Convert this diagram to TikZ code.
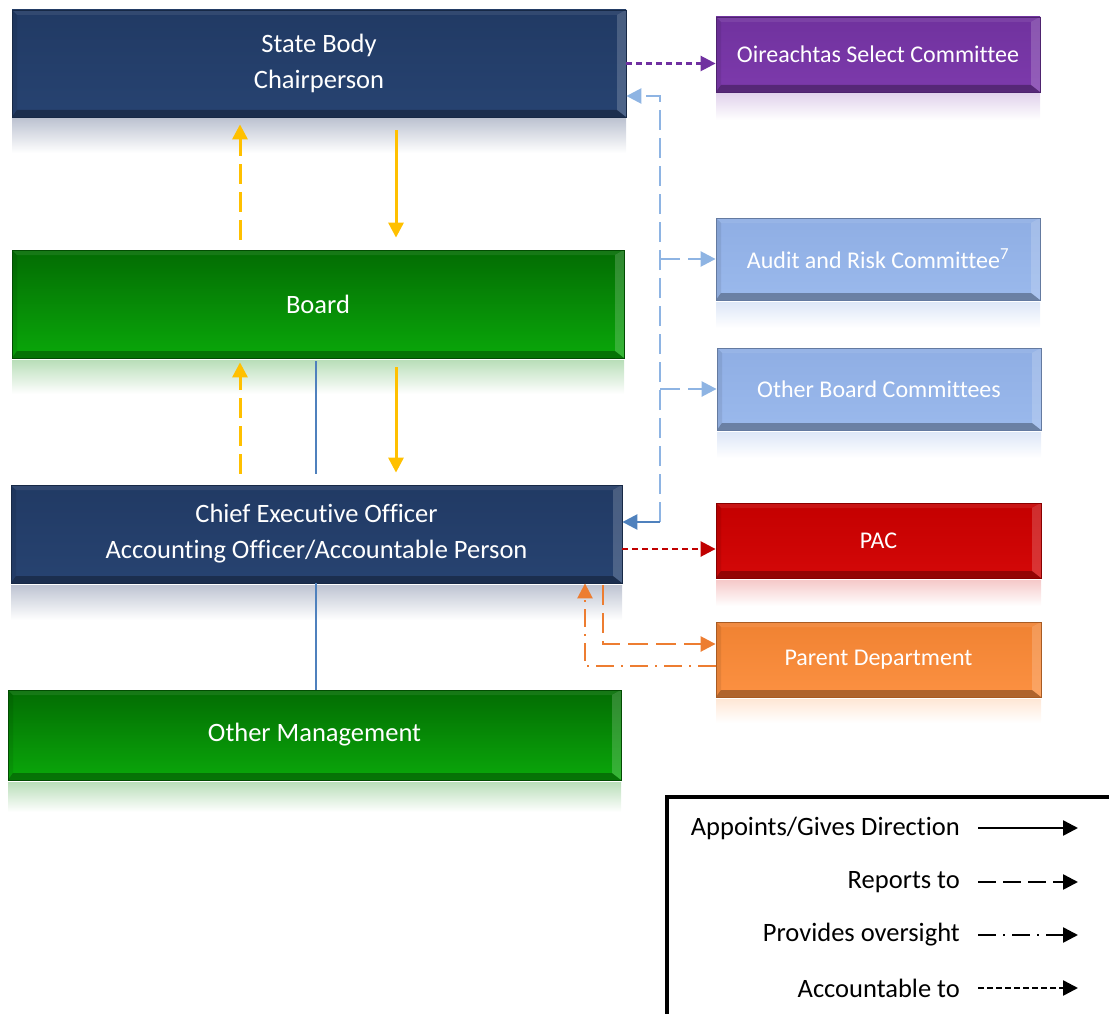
\documentclass[tikz,border=0pt]{standalone}
\usepackage{fontspec}
\setmainfont{Carlito}[RawFeature={-liga;-clig;-calt;-dlig}]
\usetikzlibrary{arrows.meta,calc}
\definecolor{navyA}{RGB}{33,58,100}
\definecolor{navyB}{RGB}{39,67,113}
\definecolor{greenA}{RGB}{3,108,3}
\definecolor{greenB}{RGB}{10,168,10}
\definecolor{purpA}{RGB}{112,50,158}
\definecolor{purpB}{RGB}{125,58,172}
\definecolor{lbA}{RGB}{143,174,228}
\definecolor{lbB}{RGB}{154,185,236}
\definecolor{redA}{RGB}{196,0,0}
\definecolor{redB}{RGB}{212,8,8}
\definecolor{orA}{RGB}{240,130,50}
\definecolor{orB}{RGB}{252,145,66}
\definecolor{yel}{RGB}{255,192,0}
\definecolor{bl}{RGB}{79,129,189}
\definecolor{lbl}{RGB}{142,180,227}
\definecolor{purl}{RGB}{112,48,160}
\definecolor{redl}{RGB}{192,0,0}
\definecolor{orl}{RGB}{237,125,49}
\definecolor{refgray}{RGB}{190,196,210}
\definecolor{refgreen}{RGB}{185,222,185}
\tikzset{
  bevel/.style={path picture={
    \fill[white,opacity=0.18] (path picture bounding box.north east) -- (path picture bounding box.south east)
       -- ([xshift=-9pt,yshift=7pt]path picture bounding box.south east) -- ([xshift=-9pt,yshift=-5pt]path picture bounding box.north east) -- cycle;
    \fill[black,opacity=0.3] (path picture bounding box.south west) -- (path picture bounding box.south east)
       -- ([xshift=-9pt,yshift=7pt]path picture bounding box.south east) -- ([xshift=5pt,yshift=7pt]path picture bounding box.south west) -- cycle;
    \fill[white,opacity=0.08] (path picture bounding box.north west) -- (path picture bounding box.north east)
       -- ([xshift=-9pt,yshift=-5pt]path picture bounding box.north east) -- ([xshift=5pt,yshift=-5pt]path picture bounding box.north west) -- cycle;
    \fill[black,opacity=0.08] (path picture bounding box.north west) -- (path picture bounding box.south west)
       -- ([xshift=5pt,yshift=7pt]path picture bounding box.south west) -- ([xshift=5pt,yshift=-5pt]path picture bounding box.north west) -- cycle;
  }},
  box/.style={inner sep=0pt, text=white, align=center, draw=#1, line width=0.8pt, bevel},
  bignav/.style={box=navyA!70!black, top color=navyA, bottom color=navyB,
     font=\fontsize{26.5}{36}\selectfont},
  biggreen/.style={box=greenA!70!black, top color=greenA, bottom color=greenB,
     font=\fontsize{26.5}{36}\selectfont},
  small/.style={minimum width=325pt, minimum height=75pt, font=\fontsize{24}{29}\selectfont},
  tip/.style={-{Triangle[length=15pt,width=15pt]}},
  repline/.style={dash pattern=on 20pt off 8pt},
  accline/.style={dash pattern=on 6pt off 4pt},
  ovsline/.style={dash pattern=on 18pt off 7pt on 2pt off 7pt},
  legtext/.style={anchor=east, inner sep=0pt, font=\fontsize{26.5}{30}\selectfont},
}
\begin{document}
\begin{tikzpicture}[x=1pt,y=-1pt]
\useasboundingbox (0,0) rectangle (1109,1014);
% reflections
\shade[top color=refgray, bottom color=white] (12,119) rectangle (626,153);
\shade[top color=refgreen, bottom color=white] (12,360) rectangle (624,394);
\shade[top color=refgray, bottom color=white] (11,585) rectangle (622,620);
\shade[top color=refgreen, bottom color=white] (8,782) rectangle (621,812);
\shade[top color=purpB!22, bottom color=white] (716,94) rectangle (1040,120);
\shade[top color=lbA!30, bottom color=white] (716,302) rectangle (1040,328);
\shade[top color=lbA!30, bottom color=white] (717,432) rectangle (1041,458);
\shade[top color=redB!22, bottom color=white] (716,580) rectangle (1041,606);
\shade[top color=orB!22, bottom color=white] (716,699) rectangle (1041,723);
% main boxes
\node[bignav, minimum width=614pt, minimum height=107pt] (sb) at (319,63.5) {State Body\\Chairperson};
\node[biggreen, minimum width=612pt, minimum height=108pt] (board) at (318,304) {Board};
\node[bignav, minimum width=611pt, minimum height=98pt] (ceo) at (316.5,534) {Chief Executive Officer\\Accounting Officer/Accountable Person};
\node[biggreen, minimum width=613pt, minimum height=90pt] (om) at (314.5,735) {Other Management};
% right boxes
\node[box=purpA!70!black, top color=purpA, bottom color=purpB, small, minimum width=324pt] (oir) at (878,54.5) {Oireachtas Select Committee};
\node[box=lbA!70!black, top color=lbA, bottom color=lbB, small, minimum width=324pt, minimum height=82pt] (aud) at (878,259) {Audit and Risk Committee\textsuperscript{7}};
\node[box=lbA!70!black, top color=lbA, bottom color=lbB, small, minimum width=324pt, minimum height=82pt] (obc) at (879,389) {Other Board Committees};
\node[box=redA!70!black, top color=redA, bottom color=redB, small] (pac) at (878.5,540.5) {PAC};
\node[box=orA!70!black, top color=orA, bottom color=orB, small] (par) at (878.5,659.5) {Parent Department};
% helper coordinates
\coordinate (xl) at (240,0);
\coordinate (xr) at (396,0);
\coordinate (xm) at (316,0);
\coordinate (vtop) at (660,96);
\coordinate (vbot) at (660,522);
\coordinate (yr) at (0,549);
\coordinate (ob) at (603,644);
\coordinate (oc) at (585,666);
% yellow and blue vertical connectors
\draw[yel, line width=3pt, repline, tip, shorten <=10pt, shorten >=7pt] (board.north -| xl) -- (sb.south -| xl);
\draw[yel, line width=3pt, tip, shorten <=13pt, shorten >=12pt] (sb.south -| xr) -- (board.north -| xr);
\draw[yel, line width=3pt, repline, tip, shorten <=11pt, shorten >=4pt] (ceo.north -| xl) -- (board.south -| xl);
\draw[yel, line width=3pt, tip, shorten <=9pt, shorten >=12pt] (board.south -| xr) -- (ceo.north -| xr);
\draw[bl, line width=2.5pt, shorten <=3pt, shorten >=11pt] (board.south -| xm) -- (ceo.north -| xm);
\draw[bl, line width=2.5pt] (ceo.south -| xm) -- (om.north -| xm);
% purple accountable
\draw[purl, line width=2.5pt, accline, tip] (sb.east) -- (sb.east -| oir.west);
% light blue reports
\draw[lbl, line width=2.5pt, repline, tip] (vbot) -- (vtop) -- (vtop -| sb.east);
\draw[lbl, line width=2.5pt, repline, tip] (vtop |- aud.west) -- (aud.west);
\draw[lbl, line width=2.5pt, repline, tip] (vtop |- obc.west) -- (obc.west);
\draw[bl, line width=2.5pt, tip] (vbot) -- (vbot -| ceo.east);
% red accountable
\draw[redl, line width=2.5pt, accline, tip] (ceo.east |- yr) -- (pac.west |- yr);
% orange
\draw[orl, line width=2.5pt, repline, tip, shorten <=2pt] (ceo.south -| ob) -- (ob) -- (ob -| par.west);
\draw[orl, line width=2.5pt, ovsline, tip] (oc -| par.west) -- (oc) -- (oc |- ceo.south);
% legend
\draw[line width=4pt] (1109,797) -- (667,797) -- (667,1014);
\node[legtext] (l1) at (960,828) {Appoints/Gives Direction};
\node[legtext] (l2) at (960,882) {Reports to};
\node[legtext] (l3) at (960,935) {Provides oversight};
\node[legtext] (l4) at (960,988) {Accountable to};
\coordinate (le) at (1078,0);
\draw[line width=2.5pt, tip, shorten <=18pt] (l1.east) -- (l1.east -| le);
\draw[line width=2.5pt, tip, shorten <=18pt, dash pattern=on 18pt off 7pt] (l2.east) -- (l2.east -| le);
\draw[line width=2.5pt, tip, shorten <=18pt, dash pattern=on 18pt off 7pt on 2pt off 7pt] (l3.east) -- (l3.east -| le);
\draw[line width=2.5pt, tip, shorten <=18pt, dash pattern=on 6pt off 3pt] (l4.east) -- (l4.east -| le);
\end{tikzpicture}
\end{document}
